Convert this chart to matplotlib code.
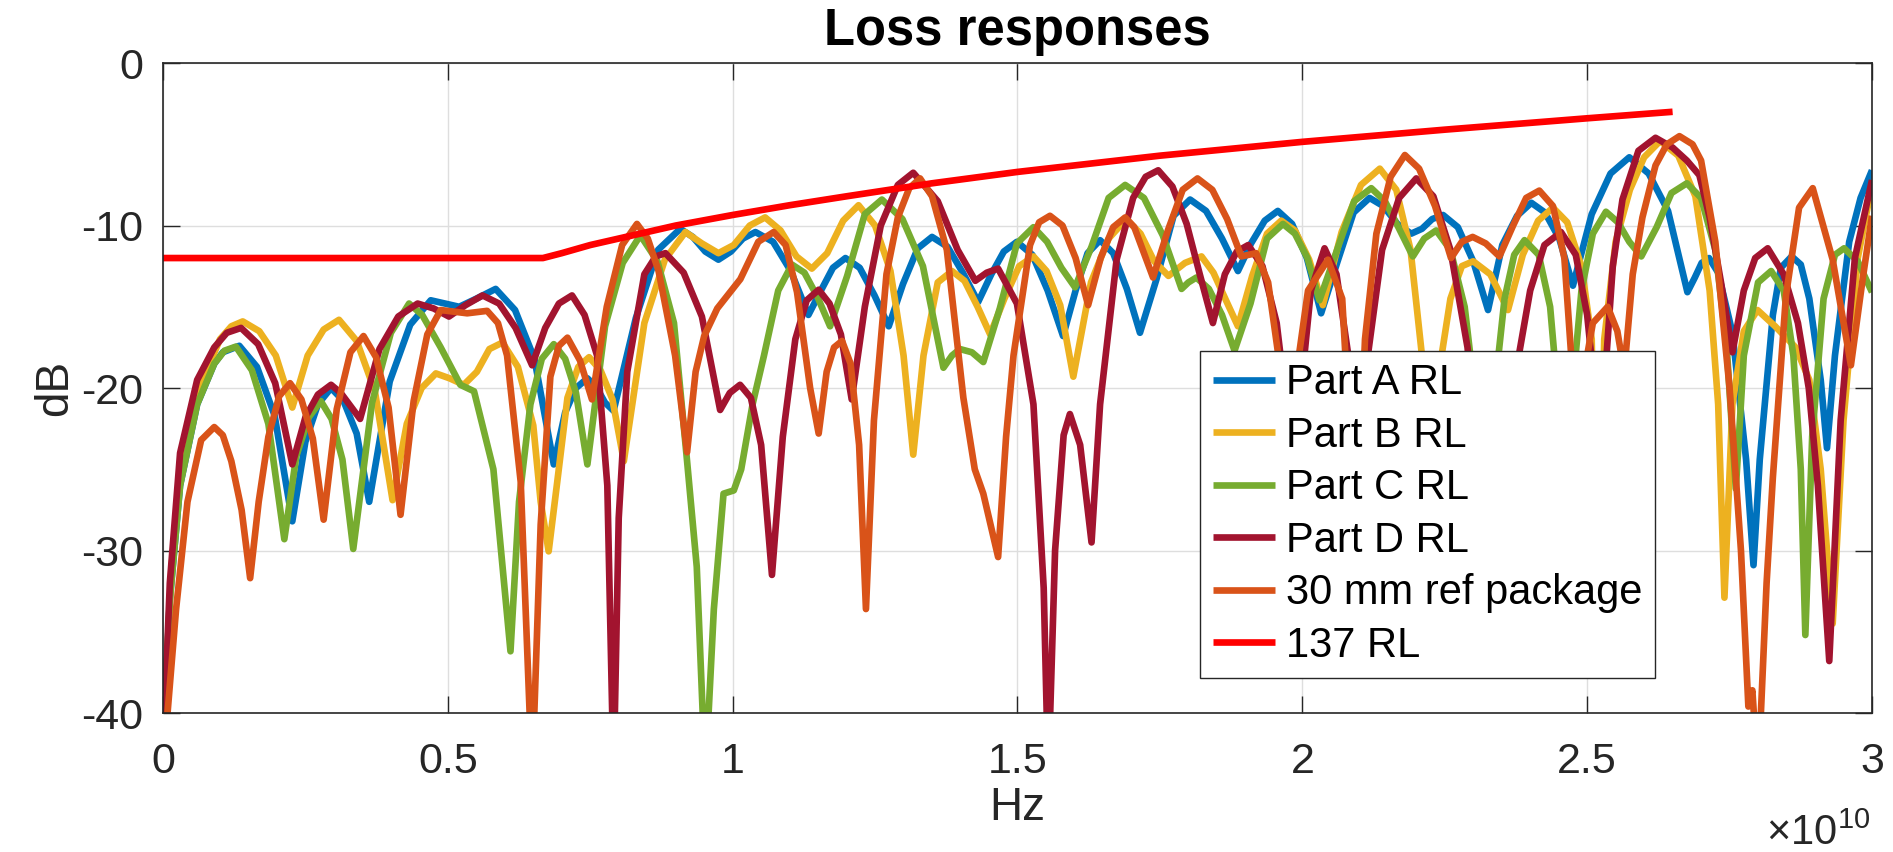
import numpy as np
import matplotlib.pyplot as plt
from matplotlib.ticker import FuncFormatter

plt.rcParams['font.family'] = ['Liberation Sans', 'DejaVu Sans']
plt.rcParams['mathtext.fontset'] = 'custom'
plt.rcParams['mathtext.rm'] = 'Liberation Sans'
plt.rcParams['axes.unicode_minus'] = False

# frequency in units of 1e10 Hz, return loss in dB
f_a = [0, .003, .012, .03, .06, .09, .105, .134, .165, .196,
       .227, .25, .272, .295, .317, .34, .362, .398, .434, .47,
       .495, .52, .55, .584, .618, .652, .686, .706, .725, .745,
       .76, .776, .791, .83, .869, .908, .93, .952, .975, .997,
       1.018, 1.04, 1.071, 1.102, 1.133, 1.155, 1.176, 1.198, 1.223, 1.249,
       1.274, 1.299, 1.325, 1.35, 1.377, 1.404, 1.431, 1.454, 1.476, 1.499,
       1.526, 1.553, 1.58, 1.602, 1.623, 1.645, 1.668, 1.692, 1.715, 1.744,
       1.774, 1.803, 1.831, 1.859, 1.887, 1.91, 1.934, 1.957, 1.982, 2.008,
       2.033, 2.061, 2.09, 2.118, 2.142, 2.167, 2.191, 2.21, 2.228, 2.247,
       2.273, 2.3, 2.326, 2.351, 2.377, 2.402, 2.426, 2.451, 2.475, 2.508,
       2.541, 2.574, 2.608, 2.642, 2.676, 2.689, 2.701, 2.714, 2.73, 2.755,
       2.779, 2.792, 2.803, 2.826, 2.84, 2.859, 2.875, 2.89, 2.91, 2.921,
       2.935, 2.96, 2.98, 3.0]
db_a = [-44, -40, -33, -26, -21, -18.5, -17.8, -17.4, -18.7, -21.7,
        -28.2, -23.3, -21.0, -20.0, -20.8, -22.8, -27.0, -19.6, -16.1, -14.6,
        -14.8, -15.0, -14.5, -13.9, -15.2, -18.2, -24.7, -21.5, -20.0, -19.4,
        -19.9, -20.9, -21.4, -15.7, -11.5, -10.2, -10.7, -11.6, -12.1, -11.6,
        -10.8, -10.4, -11.0, -12.8, -15.5, -14.0, -12.6, -12.0, -12.6, -14.3,
        -16.2, -13.6, -11.4, -10.7, -11.3, -12.9, -14.7, -13.0, -11.6, -11.0,
        -11.8, -14.0, -16.8, -14.0, -11.7, -10.9, -11.7, -13.9, -16.6, -13.3,
        -9.4, -8.4, -9.1, -10.8, -12.8, -11.1, -9.7, -9.1, -9.9, -12.0,
        -15.4, -12.3, -9.2, -8.3, -8.8, -9.9, -10.5, -10.2, -9.6, -9.35,
        -10.1, -12.2, -15.2, -11.2, -9.4, -8.6, -9.2, -10.8, -13.7, -9.3,
        -6.8, -5.8, -6.8, -9.1, -14.1, -13.2, -12.3, -12.0, -12.9, -16.6,
        -24.4, -30.9, -24.4, -15.5, -12.6, -11.9, -12.4, -14.5, -19.5, -23.7,
        -18, -11, -8.3, -6.6]

f_b = [0, .003, .015, .035, .07, .10, .12, .14, .169, .198,
       .227, .254, .282, .309, .34, .372, .403, .428, .454, .479,
       .503, .528, .551, .573, .596, .623, .65, .663, .677, .692,
       .71, .729, .748, .768, .789, .809, .845, .881, .917, .946,
       .975, 1.002, 1.03, 1.057, 1.084, 1.112, 1.139, 1.166, 1.194, 1.221,
       1.25, 1.277, 1.3, 1.317, 1.335, 1.36, 1.385, 1.407, 1.43, 1.452,
       1.477, 1.503, 1.528, 1.551, 1.575, 1.598, 1.629, 1.66, 1.691, 1.716,
       1.74, 1.765, 1.794, 1.823, 1.844, 1.866, 1.887, 1.912, 1.938, 1.963,
       1.987, 2.012, 2.036, 2.069, 2.103, 2.136, 2.165, 2.19, 2.21, 2.226,
       2.24, 2.26, 2.28, 2.30, 2.33, 2.361, 2.387, 2.414, 2.44, 2.465,
       2.49, 2.508, 2.518, 2.53, 2.55, 2.575, 2.6, 2.628, 2.66, 2.69,
       2.715, 2.73, 2.741, 2.755, 2.775, 2.799, 2.83, 2.866, 2.89, 2.91,
       2.931, 2.95, 2.975, 3.0]
db_b = [-44, -40, -31, -24, -19.5, -17, -16.2, -15.9, -16.5, -18.0,
        -21.2, -18.0, -16.4, -15.8, -17.1, -20.2, -26.9, -22.2, -20.0, -19.1,
        -19.4, -19.8, -19.0, -17.6, -17.2, -18.7, -22.3, -27, -30.05, -25.8,
        -20.6, -18.7, -18.1, -18.9, -20.7, -24.5, -16.0, -12.1, -10.4, -11.1,
        -11.7, -11.2, -10.0, -9.5, -10.3, -11.9, -12.65, -11.7, -9.7, -8.75,
        -10.0, -12.8, -18, -24.1, -18, -13.5, -12.8, -13.4, -15.0, -16.7,
        -14.5, -12.5, -11.9, -12.8, -14.9, -19.3, -13.5, -10.8, -9.6, -10.5,
        -12.2, -13.1, -12.3, -11.9, -12.9, -14.6, -16.2, -13.1, -10.5, -9.7,
        -10.3, -12.1, -14.9, -10.4, -7.5, -6.5, -7.8, -11.5, -18, -36,
        -19, -14.5, -12.5, -12.2, -13.0, -15.2, -11.8, -9.7, -8.9, -9.8,
        -12.5, -17, -36, -17, -11, -7.8, -5.8, -4.8, -5.7, -8.2,
        -14, -21, -32.9, -21, -16.5, -15.2, -16.2, -17.5, -19.5, -25,
        -34.5, -22, -12, -7.5]

f_c = [0, .003, .012, .03, .06, .09, .108, .128, .156, .185,
       .213, .234, .256, .277, .296, .315, .334, .367, .40, .432,
       .455, .4875, .522, .546, .58, .61, .625, .645, .665, .686,
       .706, .725, .745, .776, .807, .838, .868, .897, .92, .937,
       .952, .967, .984, 1.002, 1.015, 1.035, 1.055, 1.08, 1.104, 1.126,
       1.149, 1.171, 1.201, 1.232, 1.262, 1.298, 1.334, 1.37, 1.385, 1.399,
       1.42, 1.44, 1.469, 1.499, 1.528, 1.552, 1.577, 1.601, 1.63, 1.66,
       1.689, 1.722, 1.755, 1.788, 1.80, 1.814, 1.836, 1.859, 1.881, 1.909,
       1.938, 1.966, 1.987, 2.009, 2.03, 2.06, 2.091, 2.121, 2.145, 2.17,
       2.194, 2.214, 2.235, 2.26, 2.285, 2.305, 2.32, 2.335, 2.355, 2.372,
       2.39, 2.415, 2.435, 2.45, 2.46, 2.472, 2.49, 2.51, 2.533, 2.554,
       2.574, 2.595, 2.622, 2.648, 2.675, 2.70, 2.725, 2.745, 2.761, 2.775,
       2.80, 2.823, 2.845, 2.862, 2.875, 2.883, 2.895, 2.915, 2.935, 2.951,
       2.975, 3.0]
db_c = [-44, -40, -33, -26, -21, -18.5, -17.7, -17.45, -18.9, -22.2,
        -29.3, -24.2, -21.8, -20.8, -21.9, -24.4, -29.9, -20.9, -16.6, -14.8,
        -15.5, -17.5, -19.8, -20.2, -25, -36.2, -27, -21, -18.2, -17.3,
        -18.2, -20.3, -24.7, -16.2, -12.3, -10.6, -12.2, -16, -24.5, -31,
        -44, -33.6, -26.5, -26.3, -25, -21, -18, -14, -12.4, -12.9,
        -14.4, -16.2, -13.1, -9.3, -8.4, -9.6, -12.5, -18.75, -18.0, -17.6,
        -17.8, -18.4, -15.1, -11.1, -10.1, -11.0, -12.6, -13.8, -11.3, -8.3,
        -7.5, -8.3, -10.6, -13.9, -13.5, -13.2, -13.9, -15.5, -17.7, -14.8,
        -10.8, -9.9, -10.5, -12.0, -14.6, -11.6, -8.5, -7.7, -8.5, -10.2,
        -11.9, -10.8, -10.3, -11.5, -15, -21, -32, -21, -14.5, -11.8,
        -10.9, -11.8, -15, -21, -32, -21, -14, -10.5, -9.15, -9.8,
        -11.0, -11.9, -10.1, -8.0, -7.4, -8.3, -11.5, -17.5, -26.2, -18,
        -13.5, -12.8, -14, -18, -25, -35.2, -23, -14.5, -11.8, -11.4,
        -12.2, -14.1]

f_d = [0, .003, .012, .03, .06, .09, .112, .137, .167, .197,
       .227, .25, .272, .295, .312, .329, .346, .38, .413, .447,
       .475, .502, .531, .561, .59, .619, .648, .671, .695, .718,
       .74, .762, .78, .791, .80, .815, .845, .865, .882, .914,
       .946, .978, .995, 1.013, 1.032, 1.05, 1.069, 1.088, 1.11, 1.13,
       1.151, 1.17, 1.19, 1.209, 1.232, 1.26, 1.29, 1.317, 1.36, 1.395,
       1.426, 1.446, 1.466, 1.499, 1.528, 1.546, 1.554, 1.566, 1.581, 1.592,
       1.61, 1.63, 1.645, 1.674, 1.703, 1.725, 1.747, 1.772, 1.797, 1.82,
       1.843, 1.864, 1.885, 1.905, 1.93, 1.955, 1.972, 1.985, 1.998, 2.015,
       2.039, 2.06, 2.085, 2.10, 2.115, 2.14, 2.17, 2.20, 2.23, 2.26,
       2.29, 2.33, 2.37, 2.40, 2.425, 2.454, 2.48, 2.50, 2.513, 2.52,
       2.53, 2.545, 2.562, 2.59, 2.62, 2.65, 2.675, 2.697, 2.715, 2.735,
       2.755, 2.775, 2.795, 2.817, 2.845, 2.87, 2.889, 2.905, 2.925, 2.945,
       2.97, 3.0]
db_d = [-44, -40, -32, -24, -19.5, -17.5, -16.6, -16.3, -17.3, -19.7,
        -24.7, -21.8, -20.4, -19.8, -20.3, -21.1, -21.9, -17.6, -15.6, -14.8,
        -15.1, -15.6, -14.9, -14.3, -14.8, -16.3, -18.6, -16.3, -14.8, -14.3,
        -15.5, -18, -26, -44, -28, -19, -13, -11.9, -11.7, -12.9,
        -15.6, -21.35, -20.3, -19.8, -20.6, -23.5, -31.5, -23, -17, -14.6,
        -13.95, -14.8, -16.7, -20.7, -15, -10, -7.5, -6.75, -8.5, -11.5,
        -13.4, -12.9, -12.65, -14.8, -21, -32.3, -44, -30, -22.9, -21.6,
        -23.5, -29.5, -21, -12.1, -8.3, -7.0, -6.6, -7.6, -9.9, -13,
        -16.0, -13.0, -11.6, -11.2, -12.5, -16, -21, -30, -20, -14,
        -11.4, -13, -19, -30, -18, -11.5, -8.3, -7.1, -8.2, -11.5,
        -17.5, -32, -20, -14, -11.2, -10.4, -11.8, -15.5, -20, -35,
        -20, -12.5, -8.4, -5.4, -4.6, -5.2, -6.0, -6.9, -9.5, -13.5,
        -17.8, -14, -12, -11.4, -13, -16, -20, -26, -36.8, -22,
        -12, -7.2]

f_ref = [0, .008, .023, .043, .067, .09, .105, .12, .138, .153,
         .168, .185, .204, .223, .243, .263, .282, .305, .329, .352,
         .374, .396, .417, .44, .464, .4875, .51, .534, .569, .588,
         .604, .628, .648, .663, .68, .695, .71, .732, .753, .779,
         .806, .832, .851, .87, .899, .92, .935, .95, .973, 1.0135,
         1.045, 1.072, 1.093, 1.113, 1.136, 1.151, 1.165, 1.178, 1.192, 1.207,
         1.222, 1.234, 1.248, 1.27, 1.29, 1.31, 1.329, 1.35, 1.376, 1.405,
         1.425, 1.44, 1.466, 1.48, 1.493, 1.522, 1.538, 1.557, 1.579, 1.602,
         1.624, 1.646, 1.668, 1.689, 1.705, 1.722, 1.738, 1.764, 1.79, 1.816,
         1.842, 1.868, 1.893, 1.919, 1.94, 1.958, 1.975, 1.99, 2.01, 2.045,
         2.07, 2.095, 2.11, 2.13, 2.155, 2.18, 2.205, 2.233, 2.261, 2.28,
         2.299, 2.322, 2.346, 2.37, 2.393, 2.416, 2.44, 2.46, 2.472, 2.48,
         2.49, 2.51, 2.536, 2.553, 2.565, 2.58, 2.597, 2.62, 2.64, 2.662,
         2.685, 2.70, 2.725, 2.75, 2.77, 2.783, 2.79, 2.80, 2.815, 2.826,
         2.849, 2.872, 2.896, 2.931, 2.963, 2.984, 3.0]
db_ref = [-45, -40, -33.6, -27, -23.2, -22.4, -22.9, -24.5, -27.5, -31.7,
          -27, -23, -20.5, -19.7, -20.7, -23.1, -28.1, -21.3, -17.8, -16.8,
          -18.1, -21.2, -27.8, -20.8, -16.7, -15.2, -15.3, -15.4, -15.25, -16.0,
          -18, -25.8, -44, -28.4, -19.3, -17.4, -16.9, -18.3, -20.7, -15.0,
          -11.2, -9.9, -10.8, -12.8, -18, -23.95, -19, -16.8, -15.1, -13.3,
          -11.0, -10.4, -11.2, -14.1, -20, -22.8, -19, -17.5, -17.1, -18.5,
          -23.5, -33.6, -22, -13, -9.5, -7.7, -7.1, -8.2, -11.5, -20.6,
          -25, -26.5, -30.4, -23, -18, -11.2, -9.8, -9.4, -10.0, -12.0,
          -14.9, -12.0, -10.1, -9.5, -10.1, -11.7, -13.2, -10.3, -7.8, -7.1,
          -7.8, -9.6, -11.9, -11.7, -13.5, -18, -30, -19, -14, -12.1,
          -14.5, -30, -17, -10.5, -7, -5.66, -6.5, -8.8, -12.0, -11.0,
          -10.7, -11.1, -11.9, -10, -8.3, -7.85, -8.8, -12, -18, -30,
          -20, -16, -15.0, -16.5, -19, -13, -9.5, -6.3, -5.0, -4.5,
          -5.0, -6.0, -11, -20, -30, -39.6, -38.6, -44, -32, -25.5,
          -14.3, -8.9, -7.7, -12.1, -18.6, -13.2, -9.4]

f_137 = [0, 0.667, 0.70, 0.75, 0.80, 0.90, 1.0, 1.1, 1.2, 1.35, 1.5, 1.75, 2.0, 2.25, 2.5, 2.65]
db_137 = [-12, -12, -11.7, -11.2, -10.8, -10.0, -9.35, -8.75, -8.2, -7.4, -6.7, -5.7, -4.85, -4.1, -3.4, -3.0]

labels = ['Part A RL', 'Part B RL', 'Part C RL', 'Part D RL', '30 mm ref package', '137 RL']
colors = ['#0072BD', '#EDB120', '#77AC30', '#A2142F', '#D95319', '#FF0000']
freqs = [f_a, f_b, f_c, f_d, f_ref, f_137]
losses = [db_a, db_b, db_c, db_d, db_ref, db_137]

fig = plt.figure(figsize=(18.93, 8.52), dpi=100)
ax = fig.add_axes([0.0861, 0.1631, 0.9028, 0.7629])

for f, d, c, lab in zip(freqs, losses, colors, labels):
    ax.plot(np.array(f) * 1e10, d, color=c, lw=4.8, label=lab,
            solid_joinstyle='round', solid_capstyle='butt')

ax.set_xlim(0, 3e10)
ax.set_ylim(-40, 0)
ax.set_xticks(np.arange(0, 3.01e10, 0.5e10))
ax.xaxis.set_major_formatter(FuncFormatter(lambda v, p: f'{v / 1e10:g}'))
ax.set_yticks(range(-40, 1, 10))
ax.grid(True, color='#dedede', lw=1)
ax.set_axisbelow(True)
ax.tick_params(direction='in', length=12, width=1, top=True, right=True,
               labelsize=31, colors='#262626')
ax.tick_params(axis='x', pad=21)
ax.tick_params(axis='y', pad=14)
for s in ax.spines.values():
    s.set_linewidth(1.2)
    s.set_color('#262626')

ax.set_title('Loss responses', fontsize=36.5, fontweight='bold', pad=13)
ax.set_xlabel('Hz', fontsize=33, color='#262626', labelpad=3)
ax.set_ylabel('dB', fontsize=33, color='#262626', labelpad=3)
fig.text(1870 / 1893, 1 - 845 / 852, '×$10^{10}$', fontsize=30, color='#262626',
         ha='right', va='baseline')

leg = ax.legend(loc='upper left', bbox_to_anchor=(0.607, 0.557), fontsize=30, frameon=True,
                fancybox=False, edgecolor='#262626', framealpha=1, handlelength=1.5,
                handletextpad=0.25, labelspacing=0.3, borderpad=0.3, borderaxespad=0)
leg.get_frame().set_linewidth(1.0)

fig.savefig('out.png', dpi=100)
